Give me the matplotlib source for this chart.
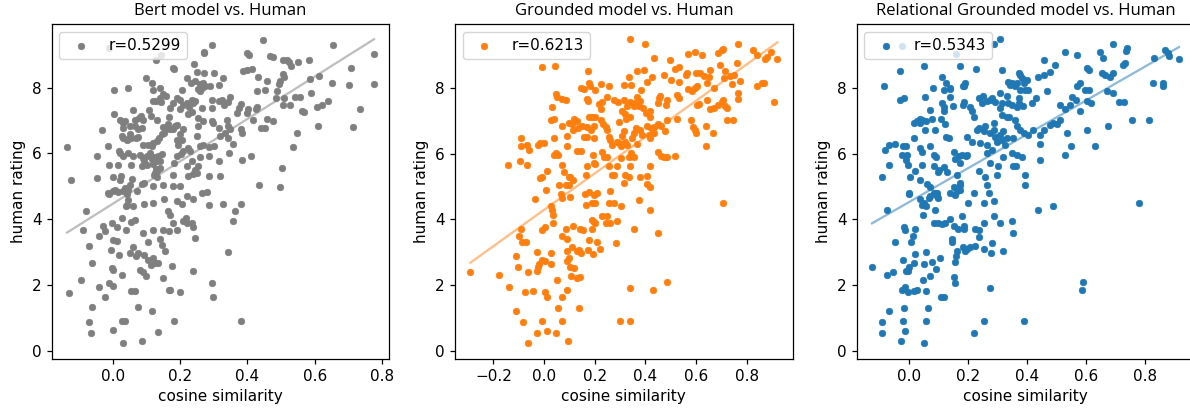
"""
Cosine similarity of three models against human ratings.
"""

import matplotlib

matplotlib.use("Agg")
import matplotlib.pyplot as plt
import numpy as np

TITLES = ["Bert model vs. Human", "Grounded model vs. Human", "Relational Grounded model vs. Human"]
CORRELATIONS = ["r=0.5299", "r=0.6213", "r=0.5343"]
COLORS = ["tab:gray", "tab:orange", "tab:blue"]

# fitted line (slope, intercept)
FIT_LINES = [(6.46, 4.465), (5.54, 4.29), (5.18, 4.52)]

bert_points = [
    (0.294, 9.29), (0.272, 9.10), (0.270, 9.05), (0.446, 9.44), (0.400, 9.07), (0.406, 9.00),
    (0.467, 8.96), (0.475, 8.94), (0.653, 9.29), (0.776, 9.03), (0.129, 8.86), (0.143, 9.00),
    (-0.010, 9.20), (0.507, 8.85), (0.517, 8.86), (0.525, 8.78), (0.550, 8.79), (0.582, 8.83),
    (0.529, 8.66), (0.707, 8.59), (0.178, 8.59), (0.182, 8.56), (0.242, 8.71), (0.388, 8.50),
    (0.400, 8.54), (0.413, 8.56), (0.250, 8.49), (0.270, 8.46), (0.300, 8.44), (0.433, 8.33),
    (0.457, 8.20), (0.507, 8.43), (0.510, 8.33), (0.497, 8.20), (0.495, 8.10), (0.585, 8.27),
    (0.612, 8.37), (0.650, 8.13), (0.703, 8.08), (0.776, 8.12), (0.100, 8.30), (0.116, 8.13),
    (0.140, 8.00), (0.120, 7.93), (0.220, 8.30), (0.233, 8.15), (0.245, 8.20), (0.260, 8.10),
    (0.268, 8.15), (0.255, 7.95), (0.265, 8.00), (0.275, 8.05), (0.258, 7.90), (0.289, 8.05),
    (0.316, 8.08), (0.329, 8.30), (0.005, 7.93), (0.046, 8.00), (0.206, 7.92), (0.430, 7.90),
    (0.453, 7.92), (0.487, 7.90), (0.510, 7.70), (0.507, 7.49), (0.527, 7.49), (0.540, 7.72),
    (0.557, 7.72), (0.590, 7.85), (0.485, 7.69), (0.150, 7.80), (0.160, 7.76), (0.140, 7.69),
    (0.130, 7.59), (0.120, 7.59), (0.145, 7.56), (0.180, 7.54), (0.190, 7.69), (0.200, 7.64),
    (0.208, 7.49), (0.220, 7.54), (0.227, 7.42), (0.235, 7.64), (0.245, 7.59), (0.240, 7.54),
    (0.170, 7.39), (0.200, 7.34), (0.294, 7.39), (0.294, 7.64), (0.317, 7.59), (0.324, 7.64),
    (0.330, 7.49), (0.349, 7.72), (0.344, 7.56), (0.380, 7.52), (0.374, 7.39), (0.403, 7.34),
    (0.428, 7.42), (0.426, 7.36), (0.264, 7.39), (0.061, 7.32), (0.109, 7.31), (0.113, 7.13),
    (0.083, 7.13), (0.066, 7.03), (0.079, 7.08), (0.091, 7.03), (0.133, 7.03), (0.168, 7.10),
    (0.225, 7.19), (0.235, 7.26), (0.254, 7.08), (0.254, 6.85), (0.267, 6.98), (0.294, 6.98),
    (0.297, 6.93), (0.317, 6.78), (0.339, 7.03), (0.344, 6.83), (0.349, 6.73), (0.368, 7.24),
    (0.398, 7.24), (0.418, 7.03), (0.457, 7.05), (0.475, 7.00), (0.441, 6.76), (0.452, 6.78),
    (0.561, 7.29), (0.568, 7.26), (0.609, 6.85), (0.638, 7.59), (0.621, 7.49), (0.606, 7.42),
    (0.715, 6.81), (0.735, 7.34), (0.547, 6.63), (0.535, 6.20), (0.319, 6.54), (0.334, 6.63),
    (0.344, 6.47), (0.358, 6.30), (0.380, 6.73), (0.383, 6.63), (0.285, 6.19), (0.300, 6.22),
    (0.267, 6.26), (-0.030, 6.71), (-0.013, 6.24), (0.005, 7.19), (0.022, 7.03), (0.030, 6.93),
    (0.037, 6.98), (0.032, 6.78), (0.051, 6.83), (0.066, 6.83), (0.076, 6.73), (0.086, 6.78),
    (0.051, 6.58), (0.056, 6.47), (0.069, 6.47), (0.076, 6.50), (0.027, 6.54), (0.032, 6.47),
    (0.042, 6.42), (0.047, 6.44), (0.091, 6.27), (0.106, 6.27), (0.116, 6.22), (0.121, 6.32),
    (0.131, 6.37), (0.139, 6.47), (0.146, 6.58), (0.152, 6.63), (0.160, 6.73), (0.170, 6.73),
    (0.178, 6.75), (0.185, 6.85), (0.150, 6.80), (0.165, 6.90), (0.190, 6.88), (0.200, 6.58),
    (0.205, 6.42), (0.195, 6.27), (0.210, 6.73), (0.190, 6.42), (0.225, 6.17), (0.230, 6.07),
    (0.250, 6.52), (0.260, 6.24), (-0.135, 6.19), (-0.122, 5.18), (-0.045, 5.91), (-0.045, 5.25),
    (-0.010, 5.64), (0.015, 5.64), (0.020, 6.07), (0.022, 6.00), (0.032, 5.91), (0.046, 6.02),
    (0.061, 5.91), (0.056, 5.64), (0.002, 5.28), (0.022, 5.20), (0.025, 5.32), (0.037, 4.95),
    (0.047, 4.90), (0.052, 5.05), (0.059, 5.22), (0.071, 4.85), (0.082, 5.95), (0.090, 5.85),
    (0.102, 5.92), (0.112, 6.02), (0.117, 5.82), (0.122, 5.88), (0.130, 5.78), (0.134, 5.93),
    (0.142, 5.78), (0.147, 5.98), (0.087, 5.63), (0.094, 5.78), (0.102, 5.66), (0.120, 5.69),
    (0.130, 5.53), (0.127, 5.41), (0.132, 5.46), (0.140, 5.56), (0.122, 5.33), (0.132, 5.28),
    (0.088, 5.08), (0.093, 5.10), (0.120, 5.00), (0.150, 5.03), (0.178, 5.02), (0.200, 5.02),
    (0.180, 5.33), (0.182, 5.71), (0.190, 5.91), (0.202, 5.97), (0.208, 6.07), (0.220, 5.61),
    (0.235, 5.76), (0.245, 5.51), (0.250, 5.39), (0.255, 5.61), (0.225, 5.30), (0.240, 5.36),
    (0.260, 5.89), (0.287, 5.93), (0.317, 5.76), (0.287, 5.30), (0.320, 5.30), (0.347, 6.02),
    (0.384, 5.79), (0.410, 5.91), (0.264, 4.80), (0.280, 4.82), (0.436, 5.05), (0.497, 4.98),
    (0.502, 5.56), (-0.013, 4.80), (0.000, 4.85), (0.007, 4.90), (-0.010, 4.78), (0.017, 4.82),
    (0.032, 4.85), (0.042, 4.78), (0.047, 4.59), (0.042, 4.44), (0.040, 4.41), (0.061, 4.39),
    (0.093, 4.47), (0.121, 4.49), (0.152, 4.61), (0.190, 4.54), (0.205, 4.47), (0.240, 4.61),
    (0.287, 4.44), (0.327, 4.47), (0.380, 4.47), (0.220, 4.70), (-0.079, 4.24), (-0.087, 3.68),
    (-0.003, 3.88), (0.027, 4.03), (0.012, 3.76), (0.040, 3.68), (0.056, 3.90), (0.066, 3.96),
    (-0.028, 3.78), (-0.023, 3.63), (-0.040, 3.48), (-0.069, 3.19), (-0.062, 2.68), (0.002, 3.37),
    (0.012, 3.32), (-0.006, 3.07), (-0.003, 2.51), (0.002, 2.46), (-0.010, 2.07), (0.002, 1.95),
    (0.027, 2.31), (0.020, 2.92), (0.051, 2.97), (0.061, 3.15), (0.069, 2.87), (0.076, 2.97),
    (0.081, 2.46), (0.089, 2.38), (0.093, 2.92), (0.100, 2.26), (0.106, 3.29), (0.091, 3.58),
    (0.120, 3.68), (0.121, 2.82), (0.106, 2.76), (0.113, 2.61), (0.126, 2.66), (0.136, 2.66),
    (0.141, 3.39), (0.146, 3.22), (0.156, 3.02), (0.151, 3.68), (0.166, 3.63), (0.164, 4.24),
    (0.170, 4.14), (0.178, 3.88), (0.190, 3.68), (0.210, 3.93), (0.220, 3.88), (0.218, 4.03),
    (0.235, 3.88), (0.240, 3.75), (0.245, 3.42), (0.175, 2.56), (0.151, 2.20), (0.166, 1.85),
    (0.169, 1.83), (0.200, 1.77), (0.240, 2.41), (0.294, 2.07), (0.297, 1.62), (0.344, 2.99),
    (0.358, 3.93), (0.363, 4.24), (-0.095, 2.15), (-0.130, 1.75), (-0.040, 1.92), (-0.023, 1.63),
    (-0.062, 1.32), (-0.069, 0.87), (-0.065, 0.53), (0.002, 0.61), (0.027, 0.91), (0.037, 0.91),
    (0.032, 0.22), (0.076, 1.32), (0.086, 0.30), (0.116, 1.19), (0.136, 0.55), (0.182, 0.91),
    (0.380, 0.91), (0.056, 1.80), (0.066, 1.80),
]

grounded_points = [
    (0.338, 9.49), (0.400, 9.35), (-0.007, 8.64), (0.043, 8.68), (0.174, 8.51), (0.435, 8.93),
    (0.496, 8.86), (0.570, 9.03), (0.597, 9.10), (0.623, 9.01), (0.685, 9.07), (0.702, 9.15),
    (0.708, 9.19), (0.767, 9.35), (0.826, 9.17), (0.842, 9.01), (0.872, 8.88), (0.879, 8.96),
    (0.896, 9.10), (0.921, 8.88), (0.761, 8.76), (0.693, 8.71), (0.335, 8.35), (0.365, 8.51),
    (0.394, 8.56), (0.427, 8.35), (0.407, 8.20), (0.383, 7.93), (0.474, 8.40), (0.516, 8.57),
    (0.532, 8.63), (0.564, 8.46), (0.561, 8.41), (0.601, 8.46), (0.617, 8.46), (0.630, 8.37),
    (0.656, 8.56), (0.653, 8.33), (0.645, 8.15), (0.669, 8.00), (0.714, 8.51), (0.710, 8.30),
    (0.734, 8.37), (0.744, 8.13), (0.567, 7.97), (0.584, 7.90), (0.597, 8.00), (0.603, 8.07),
    (0.531, 8.20), (0.500, 8.25), (0.525, 7.79), (0.531, 7.69), (0.177, 8.15), (0.180, 8.07),
    (0.157, 7.98), (0.144, 8.00), (0.203, 7.93), (0.225, 8.13), (0.256, 8.07), (0.315, 8.10),
    (0.344, 8.10), (0.046, 7.83), (0.052, 7.72), (0.072, 7.66), (0.085, 7.64), (0.168, 7.66),
    (0.174, 7.62), (0.216, 7.52), (0.230, 7.59), (0.247, 7.72), (0.275, 7.64), (0.223, 7.36),
    (0.291, 7.59), (0.315, 7.64), (0.328, 7.46), (0.338, 7.59), (0.358, 7.54), (0.367, 7.72),
    (0.374, 7.46), (0.380, 7.62), (0.391, 7.39), (0.404, 7.24), (0.420, 7.13), (0.420, 7.31),
    (0.453, 7.69), (0.449, 7.54), (0.457, 7.76), (0.483, 7.49), (0.485, 7.64), (0.308, 7.31),
    (0.321, 7.21), (0.341, 7.11), (0.354, 7.46), (0.033, 7.42), (0.026, 7.03), (0.039, 7.05),
    (0.072, 6.83), (0.098, 6.95), (0.118, 7.05), (0.109, 6.91), (0.131, 7.00), (0.151, 6.85),
    (0.177, 7.13), (0.190, 7.13), (0.203, 7.13), (0.168, 6.81), (0.184, 6.73), (0.197, 6.83),
    (0.223, 7.03), (0.233, 6.91), (0.243, 6.80), (0.114, 6.73), (0.134, 6.78), (0.157, 6.50),
    (0.170, 6.50), (0.197, 6.47), (0.092, 6.54), (0.039, 6.47), (-0.092, 6.47), (-0.092, 6.24),
    (-0.068, 6.27), (-0.059, 6.10), (-0.026, 6.27), (-0.016, 6.34), (0.000, 6.32), (-0.142, 5.66),
    (-0.094, 5.79), (-0.068, 5.66), (-0.016, 5.25), (-0.010, 5.30), (0.010, 5.46), (0.046, 6.02),
    (0.039, 5.97), (0.055, 5.97), (0.089, 6.22), (0.072, 5.66), (0.079, 5.43), (0.098, 5.30),
    (0.102, 5.28), (0.115, 5.20), (0.059, 5.05), (0.085, 5.05), (0.098, 5.05), (0.131, 6.07),
    (0.147, 6.07), (0.164, 5.36), (0.168, 5.61), (0.197, 5.73), (0.200, 5.69), (0.194, 5.97),
    (0.230, 6.04), (0.236, 5.91), (0.249, 5.91), (0.256, 5.61), (0.269, 5.36), (0.289, 5.61),
    (0.302, 5.86), (0.249, 6.73), (0.256, 6.50), (0.262, 6.42), (0.269, 6.27), (0.289, 6.37),
    (0.295, 6.32), (0.308, 6.54), (0.302, 6.22), (0.318, 6.37), (0.328, 6.27), (0.334, 5.91),
    (0.345, 6.02), (0.354, 5.89), (0.354, 6.64), (0.361, 6.78), (0.348, 6.47), (0.367, 6.30),
    (0.295, 6.98), (0.317, 6.68), (0.325, 7.05), (0.380, 6.73), (0.387, 6.58), (0.407, 6.85),
    (0.413, 6.58), (0.422, 6.78), (0.433, 6.81), (0.449, 6.91), (0.462, 6.85), (0.479, 6.68),
    (0.485, 5.91), (0.472, 5.89), (0.515, 5.93), (0.485, 7.03), (0.525, 7.05), (0.420, 6.47),
    (0.433, 6.63), (0.449, 6.04), (0.462, 5.93), (0.417, 5.64), (0.341, 5.61), (0.321, 5.36),
    (0.275, 5.36), (0.334, 5.30), (0.378, 5.28), (0.407, 5.32), (0.420, 4.99), (0.407, 5.08),
    (0.315, 5.10), (0.580, 7.03), (0.590, 6.81), (0.597, 6.73), (0.601, 6.63), (0.603, 7.49),
    (0.613, 7.52), (0.643, 7.64), (0.656, 7.36), (0.669, 7.39), (0.685, 7.47), (0.702, 7.59),
    (0.708, 7.64), (0.715, 7.44), (0.721, 7.39), (0.640, 6.83), (0.640, 6.22), (0.666, 6.63),
    (0.723, 7.03), (0.746, 7.03), (0.767, 7.85), (0.767, 7.66), (0.842, 8.05), (0.859, 8.17),
    (0.869, 8.17), (0.908, 7.59), (0.748, 8.40), (0.772, 8.23), (0.007, 4.90), (-0.037, 4.61),
    (0.066, 4.78), (0.072, 4.64), (0.101, 4.67), (0.161, 4.78), (0.177, 4.82), (0.197, 4.75),
    (0.207, 4.80), (0.262, 4.85), (0.164, 4.44), (0.190, 4.49), (0.200, 4.49), (0.256, 4.51),
    (0.275, 4.49), (0.302, 4.41), (0.376, 4.59), (0.417, 4.27), (0.706, 4.49), (0.026, 4.41),
    (0.033, 4.29), (0.037, 4.14), (0.037, 3.88), (-0.007, 3.66), (0.003, 3.76), (-0.092, 3.70),
    (-0.101, 3.48), (-0.089, 3.32), (-0.072, 3.32), (0.072, 3.48), (0.089, 3.39), (0.088, 3.70),
    (0.115, 3.80), (0.142, 3.70), (0.155, 3.66), (0.190, 3.70), (0.188, 3.98), (0.197, 3.93),
    (0.203, 3.90), (0.230, 4.09), (0.249, 4.09), (0.243, 3.90), (0.260, 3.90), (0.289, 3.96),
    (0.177, 3.37), (0.210, 3.32), (0.220, 3.09), (0.174, 3.05), (0.193, 2.95), (0.138, 3.07),
    (0.144, 2.97), (0.131, 3.02), (0.111, 3.17), (0.282, 3.27), (0.354, 3.70), (0.449, 3.58),
    (0.092, 3.02), (0.098, 2.82), (0.089, 2.72), (0.102, 2.54), (0.118, 2.51), (0.105, 2.26),
    (0.131, 2.20), (0.142, 2.24), (0.092, 1.83), (0.050, 2.15), (-0.029, 2.99), (-0.026, 2.54),
    (-0.029, 2.41), (-0.007, 2.76), (0.003, 2.72), (-0.020, 2.64), (0.026, 2.64), (0.026, 2.97),
    (-0.111, 2.89), (-0.102, 2.56), (-0.063, 2.39), (-0.042, 1.82), (-0.076, 1.78), (-0.138, 1.95),
    (-0.180, 2.31), (-0.291, 2.39), (0.003, 1.77), (0.010, 1.63), (0.072, 1.63), (0.056, 1.31),
    (-0.111, 1.19), (-0.085, 0.88), (-0.010, 0.91), (0.072, 0.91), (0.010, 0.61), (-0.029, 0.53),
    (0.046, 0.53), (-0.062, 0.22), (0.094, 0.30), (0.138, 1.31), (0.299, 0.91), (0.338, 0.91),
    (0.338, 1.92), (0.430, 1.85), (0.485, 2.08),
]

relational_points = [
    (0.309, 9.49), (0.287, 9.35), (0.161, 9.03), (-0.022, 9.29), (-0.084, 8.07), (-0.030, 8.51),
    (0.051, 8.68), (0.172, 8.66), (0.228, 8.58), (0.315, 8.56), (-0.030, 7.64), (-0.015, 7.69),
    (0.056, 7.74), (0.112, 8.35), (0.127, 8.15), (0.140, 8.00), (0.120, 7.93), (0.138, 7.97),
    (0.191, 8.15), (0.188, 8.07), (0.183, 8.05), (0.082, 8.00), (0.112, 7.54), (0.118, 7.42),
    (0.140, 7.74), (0.149, 7.46), (0.073, 7.34), (0.079, 7.05), (0.109, 7.05), (0.120, 7.29),
    (0.017, 6.95), (0.028, 7.00), (0.037, 7.05), (0.039, 6.93), (0.045, 7.03), (0.060, 7.00),
    (0.017, 6.47), (0.056, 6.73), (0.090, 6.73), (0.124, 6.91), (0.127, 6.50), (0.135, 6.47),
    (-0.079, 6.12), (-0.067, 6.27), (-0.048, 6.30), (-0.019, 6.22), (-0.008, 6.22), (-0.022, 5.97),
    (-0.006, 5.97), (-0.008, 5.81), (-0.003, 5.66), (0.003, 5.28), (0.022, 5.46), (0.037, 5.20),
    (0.045, 5.66), (0.039, 6.17), (0.045, 6.04), (-0.065, 5.66), (-0.090, 5.30), (0.062, 5.08),
    (0.073, 5.00), (0.096, 4.80), (0.174, 5.12), (0.172, 5.05), (0.157, 4.75), (0.138, 4.80),
    (0.183, 7.49), (0.208, 7.42), (0.188, 7.59), (0.213, 7.29), (0.221, 7.13), (0.236, 7.69),
    (0.251, 7.76), (0.247, 7.56), (0.264, 7.62), (0.275, 7.64), (0.281, 7.69), (0.292, 7.59),
    (0.309, 7.85), (0.315, 7.56), (0.331, 7.76), (0.337, 7.54), (0.309, 7.39), (0.315, 7.19),
    (0.331, 7.13), (0.340, 7.13), (0.348, 7.49), (0.337, 8.20), (0.348, 8.15), (0.343, 8.10),
    (0.360, 8.05), (0.365, 8.17), (0.374, 8.46), (0.376, 8.40), (0.382, 8.30), (0.390, 8.17),
    (0.399, 8.25), (0.393, 7.95), (0.376, 7.93), (0.404, 7.95), (0.371, 7.69), (0.374, 7.54),
    (0.385, 7.46), (0.365, 7.42), (0.416, 7.56), (0.430, 7.69), (0.438, 8.35), (0.457, 8.40),
    (0.466, 7.90), (0.478, 8.48), (0.494, 8.71), (0.511, 7.49), (0.528, 7.36), (0.545, 7.49),
    (0.551, 7.72), (0.567, 8.07), (0.579, 8.15), (0.596, 7.95), (0.457, 8.86), (0.528, 9.09),
    (0.567, 9.01), (0.601, 8.61), (0.610, 8.54), (0.646, 9.09), (0.657, 8.91), (0.689, 9.35),
    (0.736, 9.22), (0.734, 9.12), (0.652, 8.46), (0.663, 8.40), (0.680, 8.35), (0.691, 8.46),
    (0.711, 7.59), (0.727, 7.59), (0.753, 7.03), (0.812, 7.03), (0.826, 8.17), (0.829, 8.93),
    (0.860, 8.15), (0.860, 8.05), (0.865, 9.17), (0.876, 9.07), (0.880, 8.98), (0.913, 8.88),
    (0.669, 7.90), (0.689, 7.85), (0.674, 6.83), (0.629, 6.24), (0.601, 6.73), (0.579, 7.29),
    (0.565, 7.64), (0.615, 7.54), (0.601, 7.62), (0.610, 7.95), (0.725, 8.71), (0.730, 8.76),
    (0.442, 5.81), (0.442, 6.30), (0.444, 6.58), (0.457, 6.73), (0.478, 6.88), (0.489, 6.93),
    (0.500, 6.91), (0.547, 6.22), (0.536, 6.63), (0.528, 5.97), (0.511, 7.03), (0.421, 6.73),
    (0.404, 6.58), (0.073, 6.24), (0.087, 5.97), (0.093, 5.91), (0.084, 5.63), (0.098, 5.43),
    (0.101, 5.49), (0.120, 5.59), (0.129, 5.43), (0.152, 6.04), (0.157, 5.83), (0.163, 5.36),
    (0.169, 5.93), (0.180, 5.97), (0.174, 5.73), (0.194, 5.93), (0.197, 5.97), (0.230, 6.73),
    (0.239, 6.78), (0.253, 6.68), (0.258, 6.83), (0.273, 6.63), (0.287, 6.73), (0.292, 6.52),
    (0.298, 6.37), (0.309, 6.58), (0.315, 6.42), (0.320, 6.68), (0.326, 6.27), (0.331, 6.47),
    (0.197, 6.52), (0.213, 6.37), (0.242, 6.32), (0.264, 6.27), (0.281, 6.12), (0.264, 6.02),
    (0.320, 5.91), (0.348, 6.02), (0.365, 5.97), (0.382, 5.91), (0.352, 5.61), (0.363, 5.61),
    (0.303, 5.61), (0.275, 5.71), (0.236, 5.46), (0.298, 5.36), (0.393, 5.36), (0.393, 5.05),
    (0.258, 5.30), (0.264, 5.05), (0.270, 4.80), (0.219, 4.80), (0.152, 5.00), (0.174, 4.90),
    (0.084, 4.80), (0.000, 4.80), (0.354, 6.47), (0.376, 6.73), (0.365, 6.83), (0.388, 6.63),
    (0.360, 7.03), (0.287, 6.93), (0.000, 4.78), (0.039, 4.61), (0.045, 4.44), (0.051, 4.49),
    (0.060, 4.41), (0.067, 4.64), (0.073, 4.71), (0.090, 4.80), (0.096, 4.70), (0.098, 4.64),
    (0.163, 4.85), (0.200, 4.49), (0.255, 4.49), (0.289, 4.57), (0.438, 4.27), (0.489, 4.41),
    (0.779, 4.49), (-0.075, 4.27), (0.048, 4.14), (0.090, 4.27), (0.084, 3.90), (0.098, 3.88),
    (0.112, 3.86), (0.124, 3.90), (0.140, 4.00), (0.154, 3.80), (0.165, 3.70), (0.180, 4.09),
    (0.188, 3.80), (0.188, 3.70), (0.225, 3.70), (0.239, 3.66), (0.253, 3.90), (0.289, 4.09),
    (0.307, 3.90), (0.348, 3.96), (0.352, 3.58), (-0.015, 3.76), (-0.011, 3.66), (0.022, 3.70),
    (0.015, 3.48), (0.008, 3.32), (-0.048, 3.32), (0.146, 3.39), (0.146, 3.32), (0.185, 3.17),
    (0.191, 3.02), (0.197, 3.09), (0.206, 3.17), (0.225, 3.19), (0.239, 3.46), (0.253, 3.09),
    (0.281, 3.27), (0.278, 2.97), (0.318, 3.02), (0.022, 2.95), (0.060, 2.99), (0.163, 3.02),
    (0.157, 2.71), (0.161, 2.89), (0.104, 2.82), (0.079, 2.71), (0.093, 2.50), (0.053, 2.64),
    (0.017, 2.66), (-0.019, 2.76), (0.000, 2.56), (-0.003, 2.41), (-0.008, 2.41), (-0.053, 2.39),
    (-0.073, 2.31), (-0.124, 2.56), (0.073, 2.26), (0.048, 2.15), (0.154, 2.24), (0.157, 2.07),
    (0.060, 1.82), (0.019, 1.80), (0.028, 1.83), (-0.003, 1.77), (-0.011, 1.95), (-0.022, 1.83),
    (0.275, 1.92), (0.109, 1.63), (0.118, 1.63), (-0.017, 1.31), (0.064, 1.31), (0.584, 1.85),
    (0.590, 2.08), (-0.067, 1.19), (-0.090, 0.87), (-0.019, 0.91), (0.060, 0.91), (0.255, 0.91),
    (0.391, 0.91), (-0.090, 0.53), (-0.013, 0.61), (0.221, 0.53), (-0.026, 0.30), (0.051, 0.22),
]

ALL_POINTS = [bert_points, grounded_points, relational_points]

# axes rectangles in figure fraction (the right panel runs past the edge)
AXES_LEFTS = [0.0435, 0.3824, 0.7199]
AXES_BOTTOM = 0.1277
AXES_WIDTH = 0.2837
AXES_HEIGHT = 0.8139

# the source figure was drawn a little larger and scaled down
plt.rcParams.update({
    "font.size": 11,
    "axes.linewidth": 0.9,
    "xtick.major.size": 3.9,
    "ytick.major.size": 3.9,
    "xtick.major.width": 0.9,
    "ytick.major.width": 0.9,
    "lines.linewidth": 1.65,
})


def draw_panel(ax, points, title, label, color, fit):
    data = np.array(points)
    xs, ys = data[:, 0], data[:, 1]
    ax.scatter(xs, ys, s=22, linewidths=0.5, color=color, label=label)
    slope, intercept = fit
    line_x = np.array([xs.min(), xs.max()])
    ax.plot(line_x, slope * line_x + intercept, color=color, alpha=0.5)
    ax.set_title(title, fontsize=12, fontfamily="Open Sans", pad=6.5)
    ax.set_xlabel("cosine similarity")
    ax.set_ylabel("human rating")
    ax.legend(loc="upper left")


fig = plt.figure(figsize=(11.9, 4.11), dpi=100)
for i in range(3):
    ax = fig.add_axes([AXES_LEFTS[i], AXES_BOTTOM, AXES_WIDTH, AXES_HEIGHT])
    draw_panel(ax, ALL_POINTS[i], TITLES[i], CORRELATIONS[i], COLORS[i], FIT_LINES[i])

fig.savefig("out.png", dpi=100)
